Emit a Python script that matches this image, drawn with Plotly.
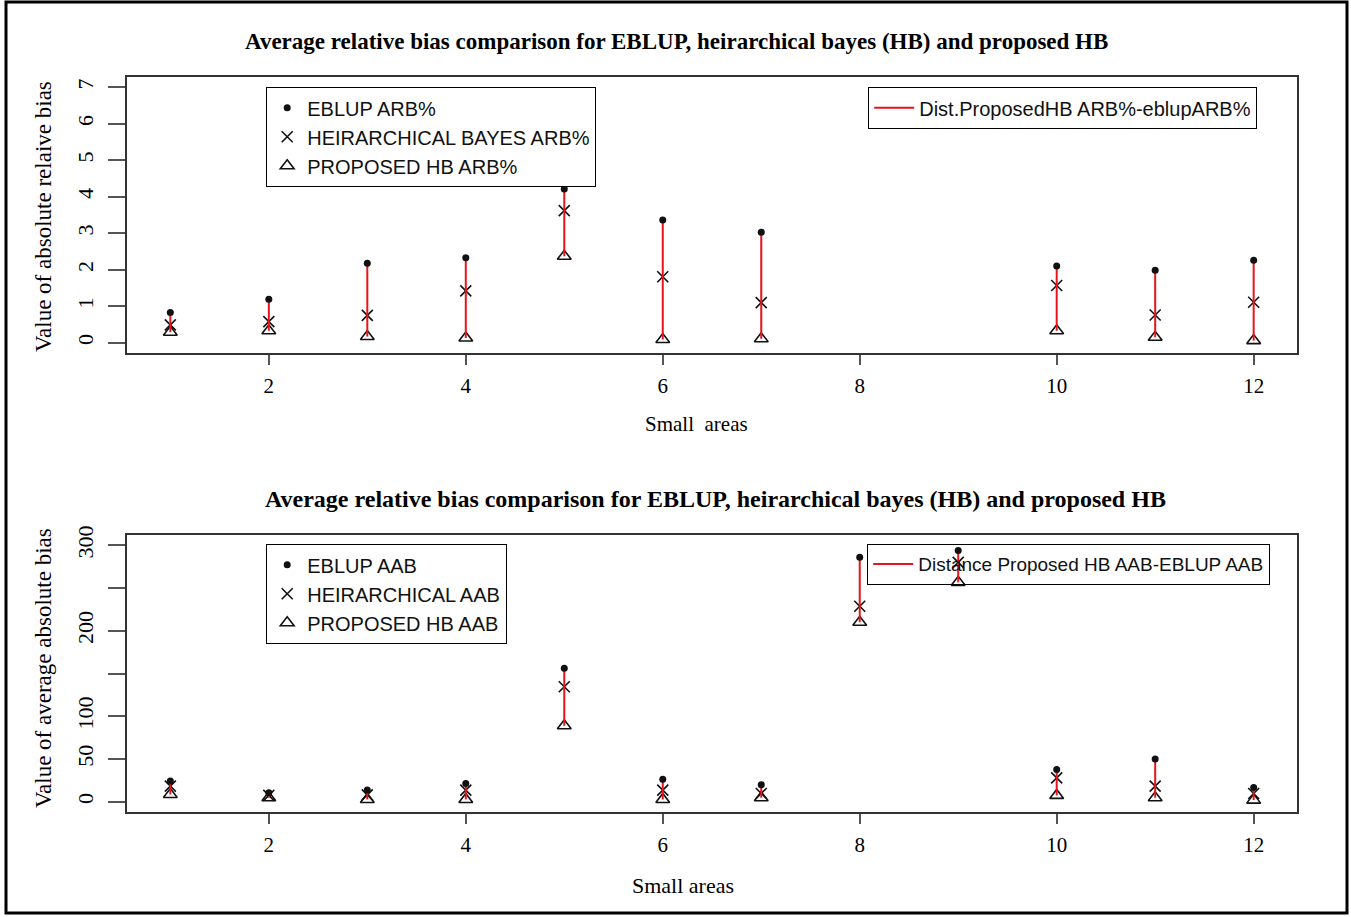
import plotly.graph_objects as go

# ---------------- data ----------------
areas_top = [1, 2, 3, 4, 5, 6, 7, 10, 11, 12]
eblup_arb = [0.83, 1.19, 2.18, 2.33, 4.21, 3.36, 3.03, 2.10, 1.99, 2.26]
hb_arb = [0.49, 0.58, 0.75, 1.42, 3.62, 1.81, 1.10, 1.57, 0.76, 1.11]
prop_arb = [0.29, 0.33, 0.17, 0.13, 2.37, 0.09, 0.11, 0.33, 0.15, 0.06]

areas_bot = [1, 2, 3, 4, 5, 6, 7, 8, 9, 10, 11, 12]
eblup_aab = [24.4, 10.5, 13.6, 21.3, 156.0, 26.4, 19.8, 286.0, 294.0, 37.6, 50.0, 16.7]
hb_aab = [18.2, 7.4, 8.1, 13.6, 134.5, 13.6, 9.7, 228.7, 280.0, 27.9, 18.2, 9.7]
prop_aab = [8.5, 4.7, 2.7, 2.7, 88.8, 2.7, 4.7, 210.0, 256.6, 7.4, 4.7, 1.9]

x_ticks = [2, 4, 6, 8, 10, 12]
y_ticks_top = [0, 1, 2, 3, 4, 5, 6, 7]
y_ticks_bot = [0, 50, 100, 150, 200, 250, 300]
y_ticktext_bot = ["0", "50", "100", "", "200", "", "300"]

title_text = "Average relative bias comparison for EBLUP, heirarchical bayes (HB) and proposed HB"
top_names = ["EBLUP ARB%", "HEIRARCHICAL BAYES ARB%", "PROPOSED HB ARB%"]
top_line_name = "Dist.ProposedHB ARB%-eblupARB%"
bot_names = ["EBLUP AAB", "HEIRARCHICAL AAB", "PROPOSED HB AAB"]
bot_line_name = "Distance Proposed HB AAB-EBLUP AAB"

# ---------------- style ----------------
W, H = 1351, 917
SERIF = "Liberation Serif, Times New Roman, serif"
SANS = "Liberation Sans, Arial, sans-serif"
INK = "#111111"
RED = "#e8141b"
AX = "#333333"


def segs(xs, lo, hi):
    sx, sy = [], []
    for x, a, b in zip(xs, lo, hi):
        sx += [x, x, None]
        sy += [a, b, None]
    return sx, sy


fig = go.Figure()


def add_panel(xs, eb, hb, pr, names, line_name, xa, ya, leg_m, leg_l):
    sx, sy = segs(xs, pr, eb)
    fig.add_trace(go.Scatter(x=xs, y=hb, mode="markers", name=names[1],
                             marker=dict(symbol="x-thin-open", size=11, color=INK,
                                         line=dict(width=1.6, color=INK)),
                             xaxis=xa, yaxis=ya, legend=leg_m, legendrank=2))
    fig.add_trace(go.Scatter(x=xs, y=pr, mode="markers", name=names[2],
                             marker=dict(symbol="triangle-up-open", size=12, color=INK,
                                         line=dict(width=1.6, color=INK)),
                             xaxis=xa, yaxis=ya, legend=leg_m, legendrank=3))
    fig.add_trace(go.Scatter(x=sx, y=sy, mode="lines", name=line_name,
                             line=dict(color=RED, width=2),
                             xaxis=xa, yaxis=ya, legend=leg_l))
    fig.add_trace(go.Scatter(x=xs, y=eb, mode="markers", name=names[0],
                             marker=dict(symbol="circle", size=7, color=INK),
                             xaxis=xa, yaxis=ya, legend=leg_m, legendrank=1))


add_panel(areas_top, eblup_arb, hb_arb, prop_arb, top_names, top_line_name,
          "x", "y", "legend", "legend2")
add_panel(areas_bot, eblup_aab, hb_aab, prop_aab, bot_names, bot_line_name,
          "x2", "y2", "legend3", "legend4")

xdom = [127 / W, 1297 / W]
ydom_top = [1 - 353 / H, 1 - 77 / H]
ydom_bot = [1 - 812 / H, 1 - 535 / H]

common_x = dict(range=[0.56, 12.44], tickvals=x_ticks, ticks="outside", ticklen=10,
                tickwidth=2, tickcolor="#555555", showgrid=False, zeroline=False,
                showline=True, mirror=True, linecolor=AX, linewidth=1.5,
                tickfont=dict(family=SERIF, size=21, color="black"),
                ticklabelstandoff=3, domain=xdom)
common_y = dict(ticks="outside", ticklen=17, tickwidth=2, tickcolor="#555555",
                showgrid=False, zeroline=False, showline=True, mirror=True,
                linecolor=AX, linewidth=1.5, tickangle=-90,
                tickfont=dict(family=SERIF, size=22, color="black"),
                ticklabelstandoff=6)

legend_common = dict(xanchor="left", yanchor="top", bgcolor="white",
                     bordercolor="black", borderwidth=1.2,
                     font=dict(family=SANS, size=20, color="#111111"),
                     tracegroupgap=0, itemclick=False)

fig.update_layout(
    width=W, height=H,
    margin=dict(l=0, r=0, t=0, b=0, autoexpand=False),
    paper_bgcolor="white", plot_bgcolor="white",
    showlegend=True,
    xaxis=dict(common_x, anchor="y"),
    yaxis=dict(common_y, range=[-0.28, 7.28], tickvals=y_ticks_top,
               domain=ydom_top, anchor="x"),
    xaxis2=dict(common_x, anchor="y2"),
    yaxis2=dict(common_y, range=[-12, 312], tickvals=y_ticks_bot,
                ticktext=y_ticktext_bot, domain=ydom_bot, anchor="x2"),
    legend=dict(legend_common, x=266 / W, y=1 - 87 / H, itemwidth=30),
    legend2=dict(legend_common, x=868 / W, y=1 - 87 / H, itemwidth=40),
    legend3=dict(legend_common, x=266 / W, y=1 - 544 / H, itemwidth=30),
    legend4=dict(legend_common, x=867 / W, y=1 - 544 / H, itemwidth=40,
                 bgcolor="rgba(255,255,255,0)",
                 font=dict(family=SANS, size=19, color="#111111")),
)

# titles and axis labels
ann = [
    dict(text="<b>" + title_text + "</b>", x=676 / W, y=1 - 42 / H,
         font=dict(family=SERIF, size=23, color="black")),
    dict(text="<b>" + title_text + "</b>", x=715 / W, y=1 - 499 / H,
         font=dict(family=SERIF, size=24, color="black")),
    dict(text="Small  areas", x=696 / W, y=1 - 424 / H,
         font=dict(family=SERIF, size=21, color="black")),
    dict(text="Small areas", x=683 / W, y=1 - 885 / H,
         font=dict(family=SERIF, size=22, color="black")),
    dict(text="Value of absolute relaive bias", x=43 / W, y=1 - 217 / H,
         textangle=-90, font=dict(family=SERIF, size=23, color="black")),
    dict(text="Value of average absolute bias", x=43 / W, y=1 - 668 / H,
         textangle=-90, font=dict(family=SERIF, size=23, color="black")),
]
for a in ann:
    fig.add_annotation(xref="paper", yref="paper", showarrow=False,
                       xanchor="center", yanchor="middle", **a)

# outer frame
fig.add_shape(type="rect", xref="paper", yref="paper",
              x0=6 / W, x1=1347 / W, y0=1 - 913 / H, y1=1 - 2 / H,
              line=dict(color="black", width=3), layer="above")

fig.write_html("out.html",
               config={"displayModeBar": False},
               post_script="document.body.style.margin='0';"
                           "document.body.style.overflow='hidden';")
